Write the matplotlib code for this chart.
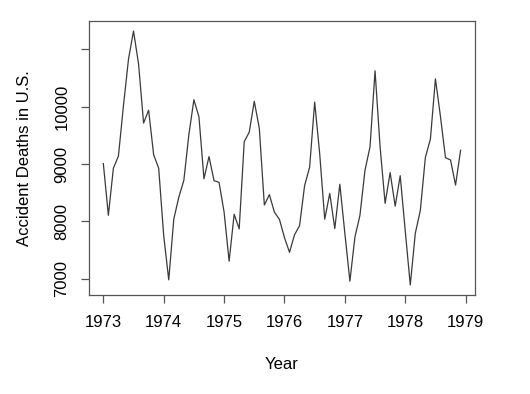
import numpy as np
import matplotlib
matplotlib.use("Agg")
import matplotlib.pyplot as plt

# USAccDeaths, monthly 1973-1978
years = [1973, 1974, 1975, 1976, 1977, 1978]
deaths_1973 = [9007, 8106, 8928, 9137, 10017, 10826, 11317, 10744, 9713, 9938, 9161, 8927]
deaths_1974 = [7750, 6981, 8038, 8422, 8714, 9512, 10120, 9823, 8743, 9129, 8710, 8680]
deaths_1975 = [8162, 7306, 8124, 7870, 9387, 9556, 10093, 9620, 8285, 8466, 8160, 8034]
deaths_1976 = [7717, 7461, 7767, 7925, 8623, 8945, 10078, 9179, 8037, 8488, 7874, 8647]
deaths_1977 = [7792, 6957, 7726, 8106, 8890, 9299, 10625, 9302, 8314, 8850, 8265, 8796]
deaths_1978 = [7836, 6892, 7791, 8192, 9115, 9434, 10484, 9827, 9110, 9070, 8633, 9240]

x_ticks = [1973, 1974, 1975, 1976, 1977, 1978, 1979]
y_ticks = [7000, 8000, 9000, 10000, 11000]
y_labels = ["7000", "8000", "9000", "10000", ""]

deaths = np.array(deaths_1973 + deaths_1974 + deaths_1975 + deaths_1976 + deaths_1977 + deaths_1978)
t = years[0] + np.arange(len(deaths)) / 12.0

plt.rcParams['font.family'] = ['Liberation Sans', 'DejaVu Sans']
fig = plt.figure(figsize=(5.3, 3.94), dpi=100, facecolor='w')
ax = fig.add_axes([0.168, 0.251, 0.728, 0.696])
ax.plot(t, deaths, color='#3a3a3a', linewidth=0.9)

# R-style 4% padding
xr = t.max() - t.min()
yr = deaths.max() - deaths.min()
ax.set_xlim(t.min() - 0.04 * xr, t.max() + 0.04 * xr)
ax.set_ylim(deaths.min() - 0.04 * yr, deaths.max() + 0.04 * yr)

ax.set_xticks(x_ticks)
ax.set_xticklabels([str(v) for v in x_ticks], fontsize=12)
ax.set_yticks(y_ticks)
ax.set_yticklabels(y_labels, fontsize=12, rotation=90, va='center')
ax.tick_params(direction='out', length=6, width=0.9, color='#555555', pad=8)
for s in ax.spines.values():
    s.set_color('#555555')
    s.set_linewidth(0.9)

ax.set_xlabel('Year', fontsize=12, labelpad=20)
ax.set_ylabel('Accident Deaths in U.S.', fontsize=12, labelpad=16)

fig.savefig('out.png', dpi=100)
